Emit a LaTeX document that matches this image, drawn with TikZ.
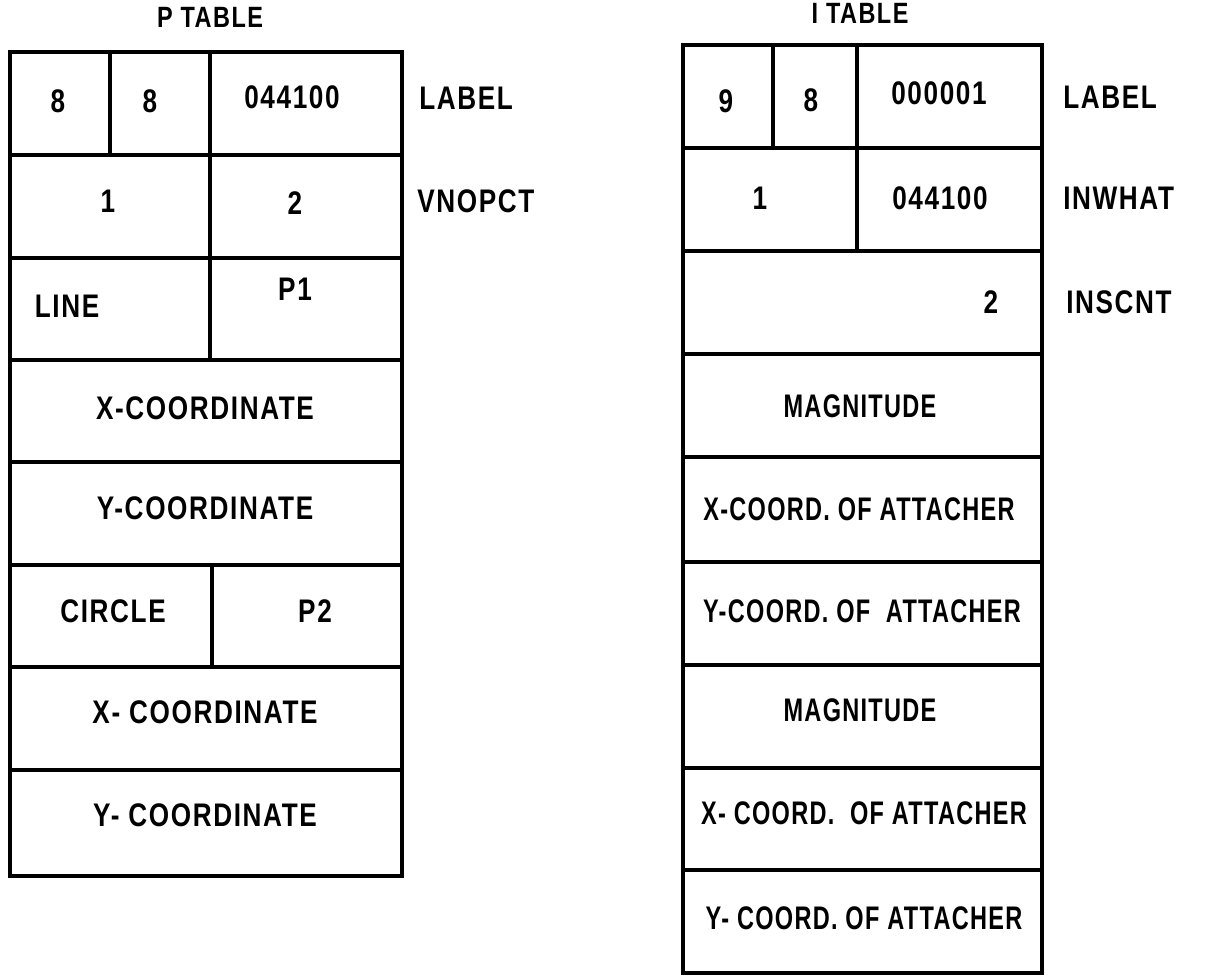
\documentclass[tikz,border=0pt]{standalone}
\usepackage{fontspec}
\setmainfont{Liberation Sans}[FakeStretch=0.8, LetterSpace=5]
\newfontfamily\narrowf{Liberation Sans}[FakeStretch=0.72, LetterSpace=4]
\begin{document}
\begin{tikzpicture}[x=0.75pt,y=-0.75pt,
  grid/.style={line width=2.5pt, line cap=rect, line join=miter},
  txt/.style={inner sep=0pt, text height=0.69em, text depth=0pt, font=\fontsize{24.5}{26}\selectfont\bfseries},
  ntxt/.style={txt, font=\fontsize{24.5}{26}\narrowf\bfseries},
  ttl/.style={txt, font=\fontsize{22}{24}\selectfont\bfseries},
  side/.style={txt, anchor=west}]
\useasboundingbox (0,0) rectangle (1227,977);
% ---------------- P TABLE ----------------
\node[ttl] (ptitle) at (210,23) {P TABLE};
\draw[grid] (10,52) rectangle (402,876);
\foreach \yy in {155,258,360,462,565,667,770} \draw[grid] (10,\yy) -- (402,\yy);
\draw[grid] (110,52) -- (110,155);
\draw[grid] (210,52) -- (210,360);
\draw[grid] (212,565) -- (212,667);
\node[txt] (p8a) at (58,108) {8};
\node[txt] (p8b) at (150,108) {8};
\node[txt] (plab) at (292,104) {044100};
\node[txt] (p1) at (108,208) {1};
\node[txt] (p2) at (295,210) {2};
\node[txt] (pline) at (67,313) {LINE};
\node[txt] (pp1) at (295,296) {P1};
\node[txt] (px1) at (205,415) {X-COORDINATE};
\node[txt] (py1) at (205,515) {Y-COORDINATE};
\node[txt] (pcirc) at (113,618) {CIRCLE};
\node[txt] (pp2) at (315,618) {P2};
\node[txt] (px2) at (205,719) {X- COORDINATE};
\node[txt] (py2) at (205,822) {Y- COORDINATE};
\node[side] (plabel) at (419,105) {LABEL};
\node[side] (pvno) at (417,208) {VNOPCT};
% ---------------- I TABLE ----------------
\node[ttl] (ititle) at (860,19) {I TABLE};
\draw[grid] (683,45) rectangle (1042,973);
\foreach \yy in {148,251,354,457,562,665,768,870} \draw[grid] (683,\yy) -- (1042,\yy);
\draw[grid] (773,45) -- (773,148);
\draw[grid] (857,45) -- (857,251);
\node[txt] (i9) at (726,108) {9};
\node[txt] (i8) at (811,107) {8};
\node[txt] (ilab) at (939,100) {000001};
\node[txt] (i1) at (760,205) {1};
\node[txt] (iw) at (940,205) {044100};
\node[txt] (i2) at (991,309) {2};
\node[ntxt] (im1) at (860,413) {MAGNITUDE};
\node[ntxt] (ix1) at (859,516) {X-COORD. OF ATTACHER};
\node[ntxt] (iy1) at (862,618) {Y-COORD. OF \ ATTACHER};
\node[ntxt] (im2) at (860,717) {MAGNITUDE};
\node[ntxt] (ix2) at (864,820) {X- COORD. \ OF ATTACHER};
\node[ntxt] (iy2) at (864,925) {Y- COORD. OF ATTACHER};
\node[side] (ilabel) at (1063,104) {LABEL};
\node[side] (iinw) at (1063,205) {INWHAT};
\node[side] (iins) at (1066,309) {INSCNT};
\end{tikzpicture}
\end{document}
